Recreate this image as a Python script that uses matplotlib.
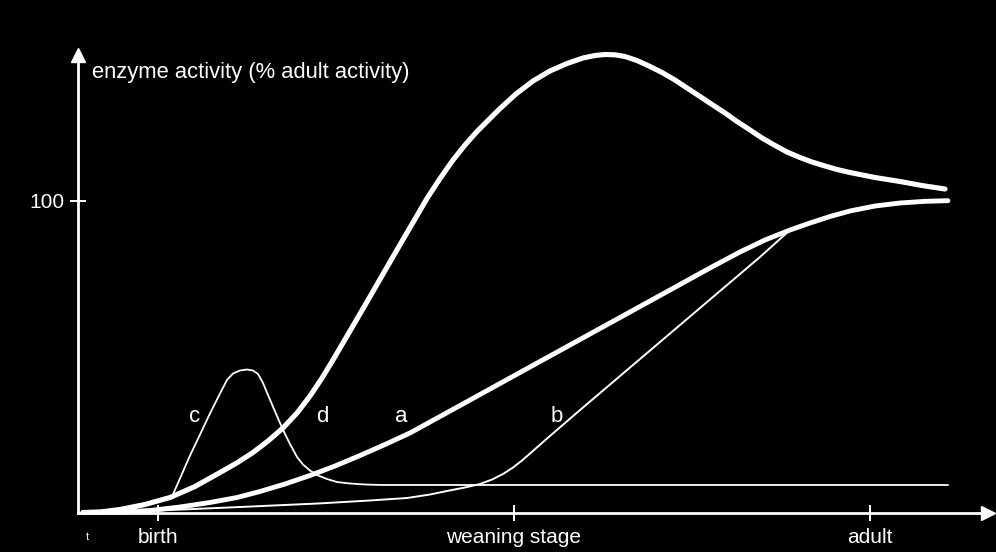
import matplotlib
matplotlib.use('Agg')
import matplotlib.pyplot as plt

plt.rcParams['font.family'] = ['Liberation Sans', 'DejaVu Sans']

# Time axis: birth = 1, weaning = 5, adult = 9 (arbitrary age units)
# Activity: % of adult activity

# curve d - big overshoot before settling at adult level
d_x = [0.157, 0.348, 0.573, 0.854, 1.135, 1.416, 1.697, 1.888, 2.067,
       2.236, 2.404, 2.562, 2.708, 2.843, 2.966, 3.157, 3.360, 3.551, 3.753,
       3.888, 4.022, 4.169, 4.315, 4.449, 4.584, 4.719, 4.843, 5.022, 5.213,
       5.404, 5.596, 5.775, 5.910, 6.022, 6.135, 6.247, 6.382, 6.528, 6.663,
       6.809, 6.944, 7.090, 7.225, 7.371, 7.506, 7.652, 7.787, 7.933, 8.067,
       8.213, 8.348, 8.494, 8.629, 8.775, 9.056, 9.337, 9.584, 9.843]
d_y = [0.0, 0.16, 0.96, 2.57, 4.81, 8.34, 12.83, 15.94, 19.24,
       22.93, 27.10, 31.91, 37.36, 43.14, 48.91, 58.21, 68.15, 77.61, 87.56,
       94.13, 100.71, 107.12, 113.05, 117.86, 122.19, 126.04, 129.57, 134.22, 138.39,
       141.60, 144.00, 145.77, 146.57, 146.89, 146.79, 146.25, 144.96, 143.04, 141.12,
       138.71, 136.15, 133.42, 130.85, 128.13, 125.40, 122.68, 120.11, 117.70, 115.62,
       113.86, 112.41, 111.13, 110.01, 109.04, 107.44, 106.16, 104.87, 103.75]

# curve a - steady rise to adult level
a_x = [0.157, 0.573, 0.910, 1.247, 1.584, 1.888, 2.146, 2.427, 2.708, 2.989,
       3.270, 3.551, 3.831, 4.169, 4.618, 5.067, 5.517, 5.966, 6.416, 6.865,
       7.202, 7.539, 7.820, 8.101, 8.326, 8.551, 8.775, 9.056, 9.337, 9.618, 9.876]
a_y = [0.0, 0.16, 0.64, 1.76, 3.21, 4.81, 6.74, 9.14, 11.87, 14.91,
       18.28, 21.81, 25.50, 30.79, 37.84, 44.90, 51.96, 59.01, 66.07, 73.12,
       78.42, 83.55, 87.40, 90.60, 92.85, 94.93, 96.70, 98.30, 99.26, 99.80, 100.0]

# curve b - late rise after weaning, joins a
b_x = [0.157, 0.573, 1.011, 1.921, 2.798, 3.382, 3.798, 4.056, 4.247, 4.449,
       4.618, 4.753, 4.876, 4.989, 5.090, 5.180, 5.371, 5.742, 6.416, 7.090,
       7.764, 8.101]
b_y = [0.0, 0.16, 0.64, 1.76, 2.89, 3.85, 4.65, 5.77, 6.90, 8.02,
       9.14, 10.58, 12.35, 14.43, 16.68, 18.92, 23.73, 32.87, 49.23, 65.59,
       81.94, 90.60]

# curve c - transient peak just after birth (leaves d near birth)
c_x = [0.157, 0.348, 0.573, 0.854, 1.135, 1.157, 1.360, 1.584, 1.697,
       1.775, 1.843, 1.921, 2.000, 2.067, 2.124, 2.180, 2.236, 2.303, 2.371,
       2.427, 2.483, 2.562, 2.629, 2.708, 2.787, 2.899, 3.011, 3.157, 3.326,
       3.528, 9.876]
c_y = [0.0, 0.16, 0.96, 2.57, 4.81, 5.07, 18.28, 31.75, 38.17,
       42.50, 44.58, 45.54, 45.86, 45.54, 44.42, 41.53, 37.68, 33.19, 28.70,
       25.18, 21.97, 17.80, 15.39, 13.47, 12.03, 10.74, 9.78, 9.30, 8.98,
       8.82, 8.82]

curve_labels = ['c', 'd', 'a', 'b']
curve_label_x = [1.416, 2.843, 3.730, 5.483]
curve_label_y = [30.9, 30.9, 30.9, 30.9]

tick_pos = [1, 5, 9]
tick_names = ['birth', 'weaning stage', 'adult']

fig = plt.figure(figsize=(9.96, 5.52), dpi=100, facecolor='black')
ax = fig.add_axes([78 / 996, (552 - 512.5) / 552, (988 - 78) / 996, (512.5 - 55) / 552])
ax.set_facecolor('black')

line_kw = dict(color='white', solid_capstyle='round', solid_joinstyle='round', clip_on=False)
ax.plot(c_x, c_y, lw=1.3, **line_kw)
ax.plot(b_x, b_y, lw=1.4, **line_kw)
ax.plot(a_x, a_y, lw=3.5, **line_kw)
ax.plot(d_x, d_y, lw=3.7, **line_kw)

for lab, lx, ly in zip(curve_labels, curve_label_x, curve_label_y):
    ax.text(lx, ly, lab, color='white', fontsize=16, ha='center', va='center')

ax.set_xlim((78 - 69) / 89, (988 - 69) / 89)
ax.set_ylim(0, (512.5 - 55) / 3.118)

for side in ['top', 'right']:
    ax.spines[side].set_visible(False)
for side in ['left', 'bottom']:
    ax.spines[side].set_color('white')
    ax.spines[side].set_linewidth(2.0)

# arrow heads on the axes
ax.plot(1, 0, '>', color='white', ms=10, transform=ax.transAxes, clip_on=False)
ax.plot(0, 1, '^', color='white', ms=10, transform=ax.transAxes, clip_on=False)

ax.set_xticks(tick_pos)
ax.set_xticklabels(tick_names)
ax.set_yticks([100])
ax.set_yticklabels(['100'])
ax.tick_params(colors='white', direction='inout', length=12, width=1.4, labelsize=15)
ax.tick_params(axis='x', pad=5.5)
ax.tick_params(axis='y', pad=4)

ax.text(0.26, 141, 'enzyme activity (% adult activity)', color='white',
        fontsize=15.8, ha='left', va='center')
ax.text(0.21, -8, 't', color='white', fontsize=8, ha='center', va='center')

fig.savefig('out.png', dpi=100, facecolor='black')
